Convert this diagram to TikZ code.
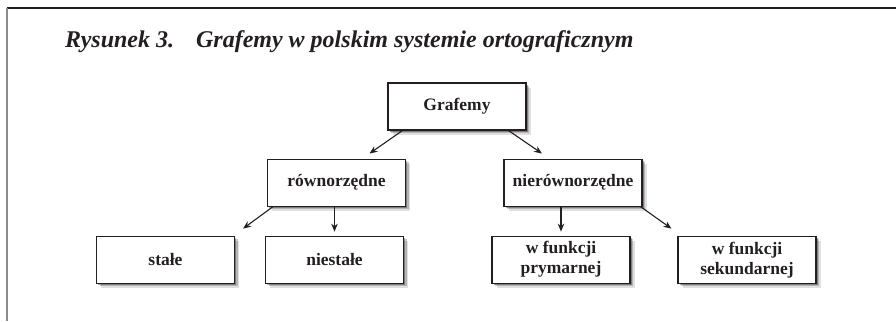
\documentclass[tikz,border=0pt]{standalone}
\usepackage{fontspec}
\setmainfont{Liberation Serif}
\usepackage{tikz}
\usetikzlibrary{positioning}
\usetikzlibrary{arrows.meta}
\usetikzlibrary{shadows}
\usepackage{xcolor}
\definecolor{ink}{HTML}{231F20}

\begin{document}
\begin{tikzpicture}[
  x=1pt, y=-1pt,
  box/.style={draw=ink, line width=1.1pt, fill=white, align=center, text=ink,
    minimum width=138pt, minimum height=47pt, inner sep=2pt,
    font=\fontsize{17.5}{20}\selectfont\bfseries,
    drop shadow={shadow xshift=4.5pt, shadow yshift=-4.5pt, opacity=.12, fill=black},
    drop shadow={shadow xshift=3pt, shadow yshift=-3pt, opacity=.2, fill=black},
    drop shadow={shadow xshift=1.5pt, shadow yshift=-1.5pt, opacity=.3, fill=black}},
  arrow/.style={-{Stealth[length=8pt,width=6.5pt]}, line width=1.1pt, draw=ink},
  thickarrow/.style={arrow, line width=2pt}
]
\useasboundingbox (0,0) rectangle (896,321);
% Frame
\draw[line width=1.5pt, ink] (7,8) -- (896,8);
\draw[line width=2pt, black!45] (7,8) -- (7,321);

% Title
\node[anchor=base west, inner sep=0, text=ink, font=\fontsize{24}{28}\selectfont\bfseries\itshape] (title) at (65,48)
  {Rysunek 3.\hspace{22pt}Grafemy w polskim systemie ortograficznym};

% Nodes
\node[box] (G) at (457,106.5) {Grafemy};
\node[box, below=28pt of G, xshift=-120.5pt] (R) {równorzędne};
\node[box, below=28pt of G, xshift=116pt] (N) {nierównorzędne};

\node[box, below=29pt of R, xshift=-171pt] (S) {stałe};
\node[box, below=29pt of R, xshift=-2pt] (NS) {niestałe};
\node[box, below=29pt of N, xshift=-12pt] (P) {w funkcji\\prymarnej};
\node[box, below=29pt of N, xshift=174pt] (K) {w funkcji\\sekundarnej};

% Edges
\draw[arrow] ([xshift=15pt]G.south west) -- ([xshift=33pt,yshift=5pt]R.north);
\draw[arrow] ([xshift=-18pt]G.south east) -- ([xshift=-31pt,yshift=5pt]N.north);

\draw[arrow] ([xshift=6pt]R.south west) -- ([xshift=8pt,yshift=7pt]S.north east);
\draw[arrow] (NS.north |- R.south) -- ([yshift=4pt]NS.north);

\draw[thickarrow] (P.north |- N.south) -- ([yshift=4pt]P.north);
\draw[arrow] ([xshift=-2pt]N.south east) -- ([xshift=-6pt,yshift=7pt]K.north west);

\end{tikzpicture}
\end{document}
